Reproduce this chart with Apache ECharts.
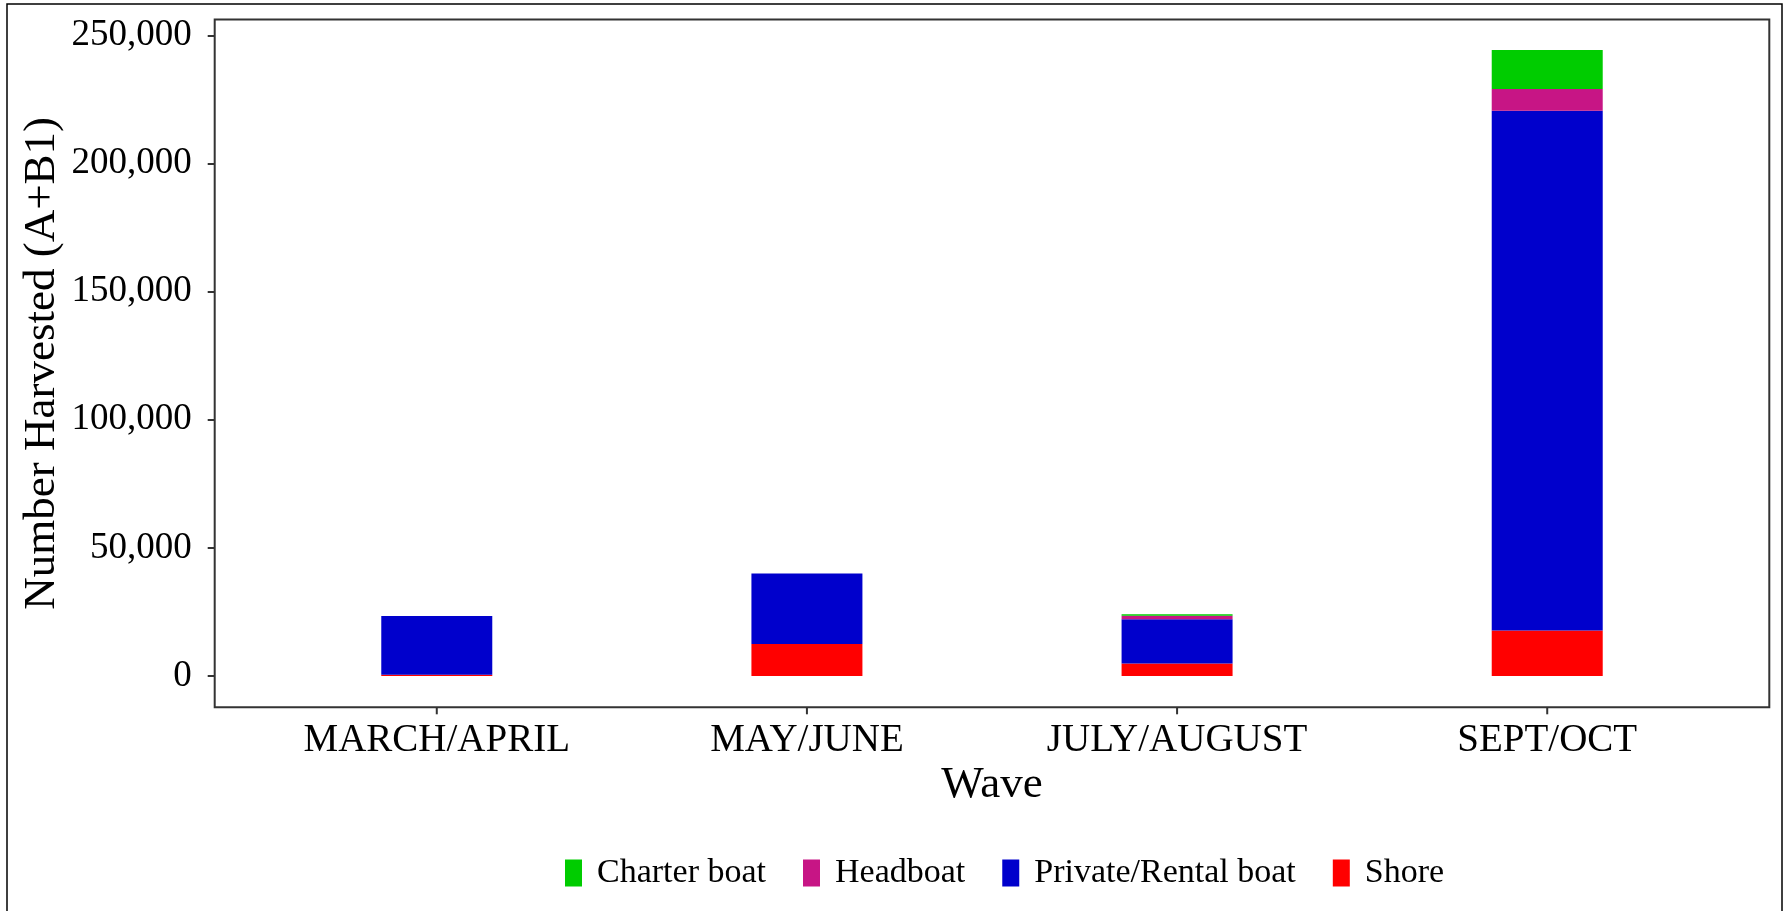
<!DOCTYPE html>
<html>
<head>
<meta charset="utf-8">
<script src="https://cdn.jsdelivr.net/npm/echarts@6/dist/echarts.min.js"></script>
<style>
html,body{margin:0;padding:0;background:#fff;}
#chart{width:1791px;height:911px;}
</style>
</head>
<body>
<div id="chart"></div>
<script>
const categories = ['MARCH/APRIL', 'MAY/JUNE', 'JULY/AUGUST', 'SEPT/OCT'];
const shore = [500, 12500, 4900, 17800];
const privateRental = [22900, 27500, 17300, 202800];
const headboat = [0, 0, 1300, 8400];
const charter = [0, 0, 600, 15300];
const yTicks = [0, 50000, 100000, 150000, 200000, 250000];
const legendOrder = ['Charter boat', 'Headboat', 'Private/Rental boat', 'Shore'];
const Y_MIN = -12200, Y_MAX = 256200;

const FONT = 'Liberation Serif';
const chart = echarts.init(document.getElementById('chart'));

function bar(name, data, color) {
  return {
    name: name, type: 'bar', stack: 'total', data: data, barWidth: 111,
    itemStyle: { color: color }, emphasis: { disabled: true }
  };
}

chart.setOption({
  animation: false,
  backgroundColor: '#fff',
  grid: { left: 251.7, right: 58.7, top: 19.4, bottom: 203.7, containLabel: false },
  xAxis: {
    type: 'category',
    data: categories,
    axisLine: { show: false, onZero: false },
    axisTick: { show: false },
    axisLabel: { fontFamily: FONT, fontSize: 39, color: '#000', margin: 14 },
    name: 'Wave',
    nameLocation: 'middle',
    nameGap: 55,
    nameMoveOverlap: false,
    nameTextStyle: { fontFamily: FONT, fontSize: 45, color: '#000' }
  },
  yAxis: {
    type: 'value',
    min: Y_MIN,
    max: Y_MAX,
    offset: 37,
    splitLine: { show: false },
    axisLine: { show: false },
    axisTick: { show: true, length: 7, customValues: yTicks, lineStyle: { color: '#333', width: 2 } },
    axisLabel: {
      fontFamily: FONT, fontSize: 37, color: '#000', margin: 23,
      customValues: yTicks,
      formatter: v => Number(v).toLocaleString('en-US')
    },
    name: 'Number Harvested (A+B1)',
    nameLocation: 'middle',
    nameGap: 150,
    nameMoveOverlap: false,
    nameTextStyle: { fontFamily: FONT, fontSize: 45, color: '#000' }
  },
  legend: {
    data: legendOrder,
    bottom: 16,
    left: 560,
    icon: 'rect',
    itemWidth: 17,
    itemHeight: 27,
    itemGap: 37,
    selectedMode: false,
    textStyle: { fontFamily: FONT, fontSize: 34, color: '#000', padding: [0, 0, 0, 10] }
  },
  graphic: [
    { type: 'rect', shape: { x: 7, y: 4, width: 1775, height: 920 }, style: { fill: 'none', stroke: '#000', lineWidth: 1.5 }, silent: true },
    { type: 'rect', shape: { x: 214.7, y: 19.4, width: 1554.6, height: 687.9 }, style: { fill: 'none', stroke: '#333', lineWidth: 2 }, silent: true, z: 10 }
  ],
  series: [
    bar('Shore', shore, '#FF0000'),
    bar('Private/Rental boat', privateRental, '#0000CC'),
    bar('Headboat', headboat, '#C71585'),
    bar('Charter boat', charter, '#00CC00'),
    {
      name: 'xTicks',
      type: 'custom',
      clip: false,
      silent: true,
      z: 11,
      data: categories.map((c, i) => [i, Y_MIN]),
      encode: { x: 0, y: 1 },
      renderItem: function (params, api) {
        const p = api.coord([api.value(0), api.value(1)]);
        return {
          type: 'line',
          shape: { x1: p[0], y1: p[1], x2: p[0], y2: p[1] + 7 },
          style: { stroke: '#333', lineWidth: 2 }
        };
      }
    }
  ]
});
</script>
</body>
</html>
